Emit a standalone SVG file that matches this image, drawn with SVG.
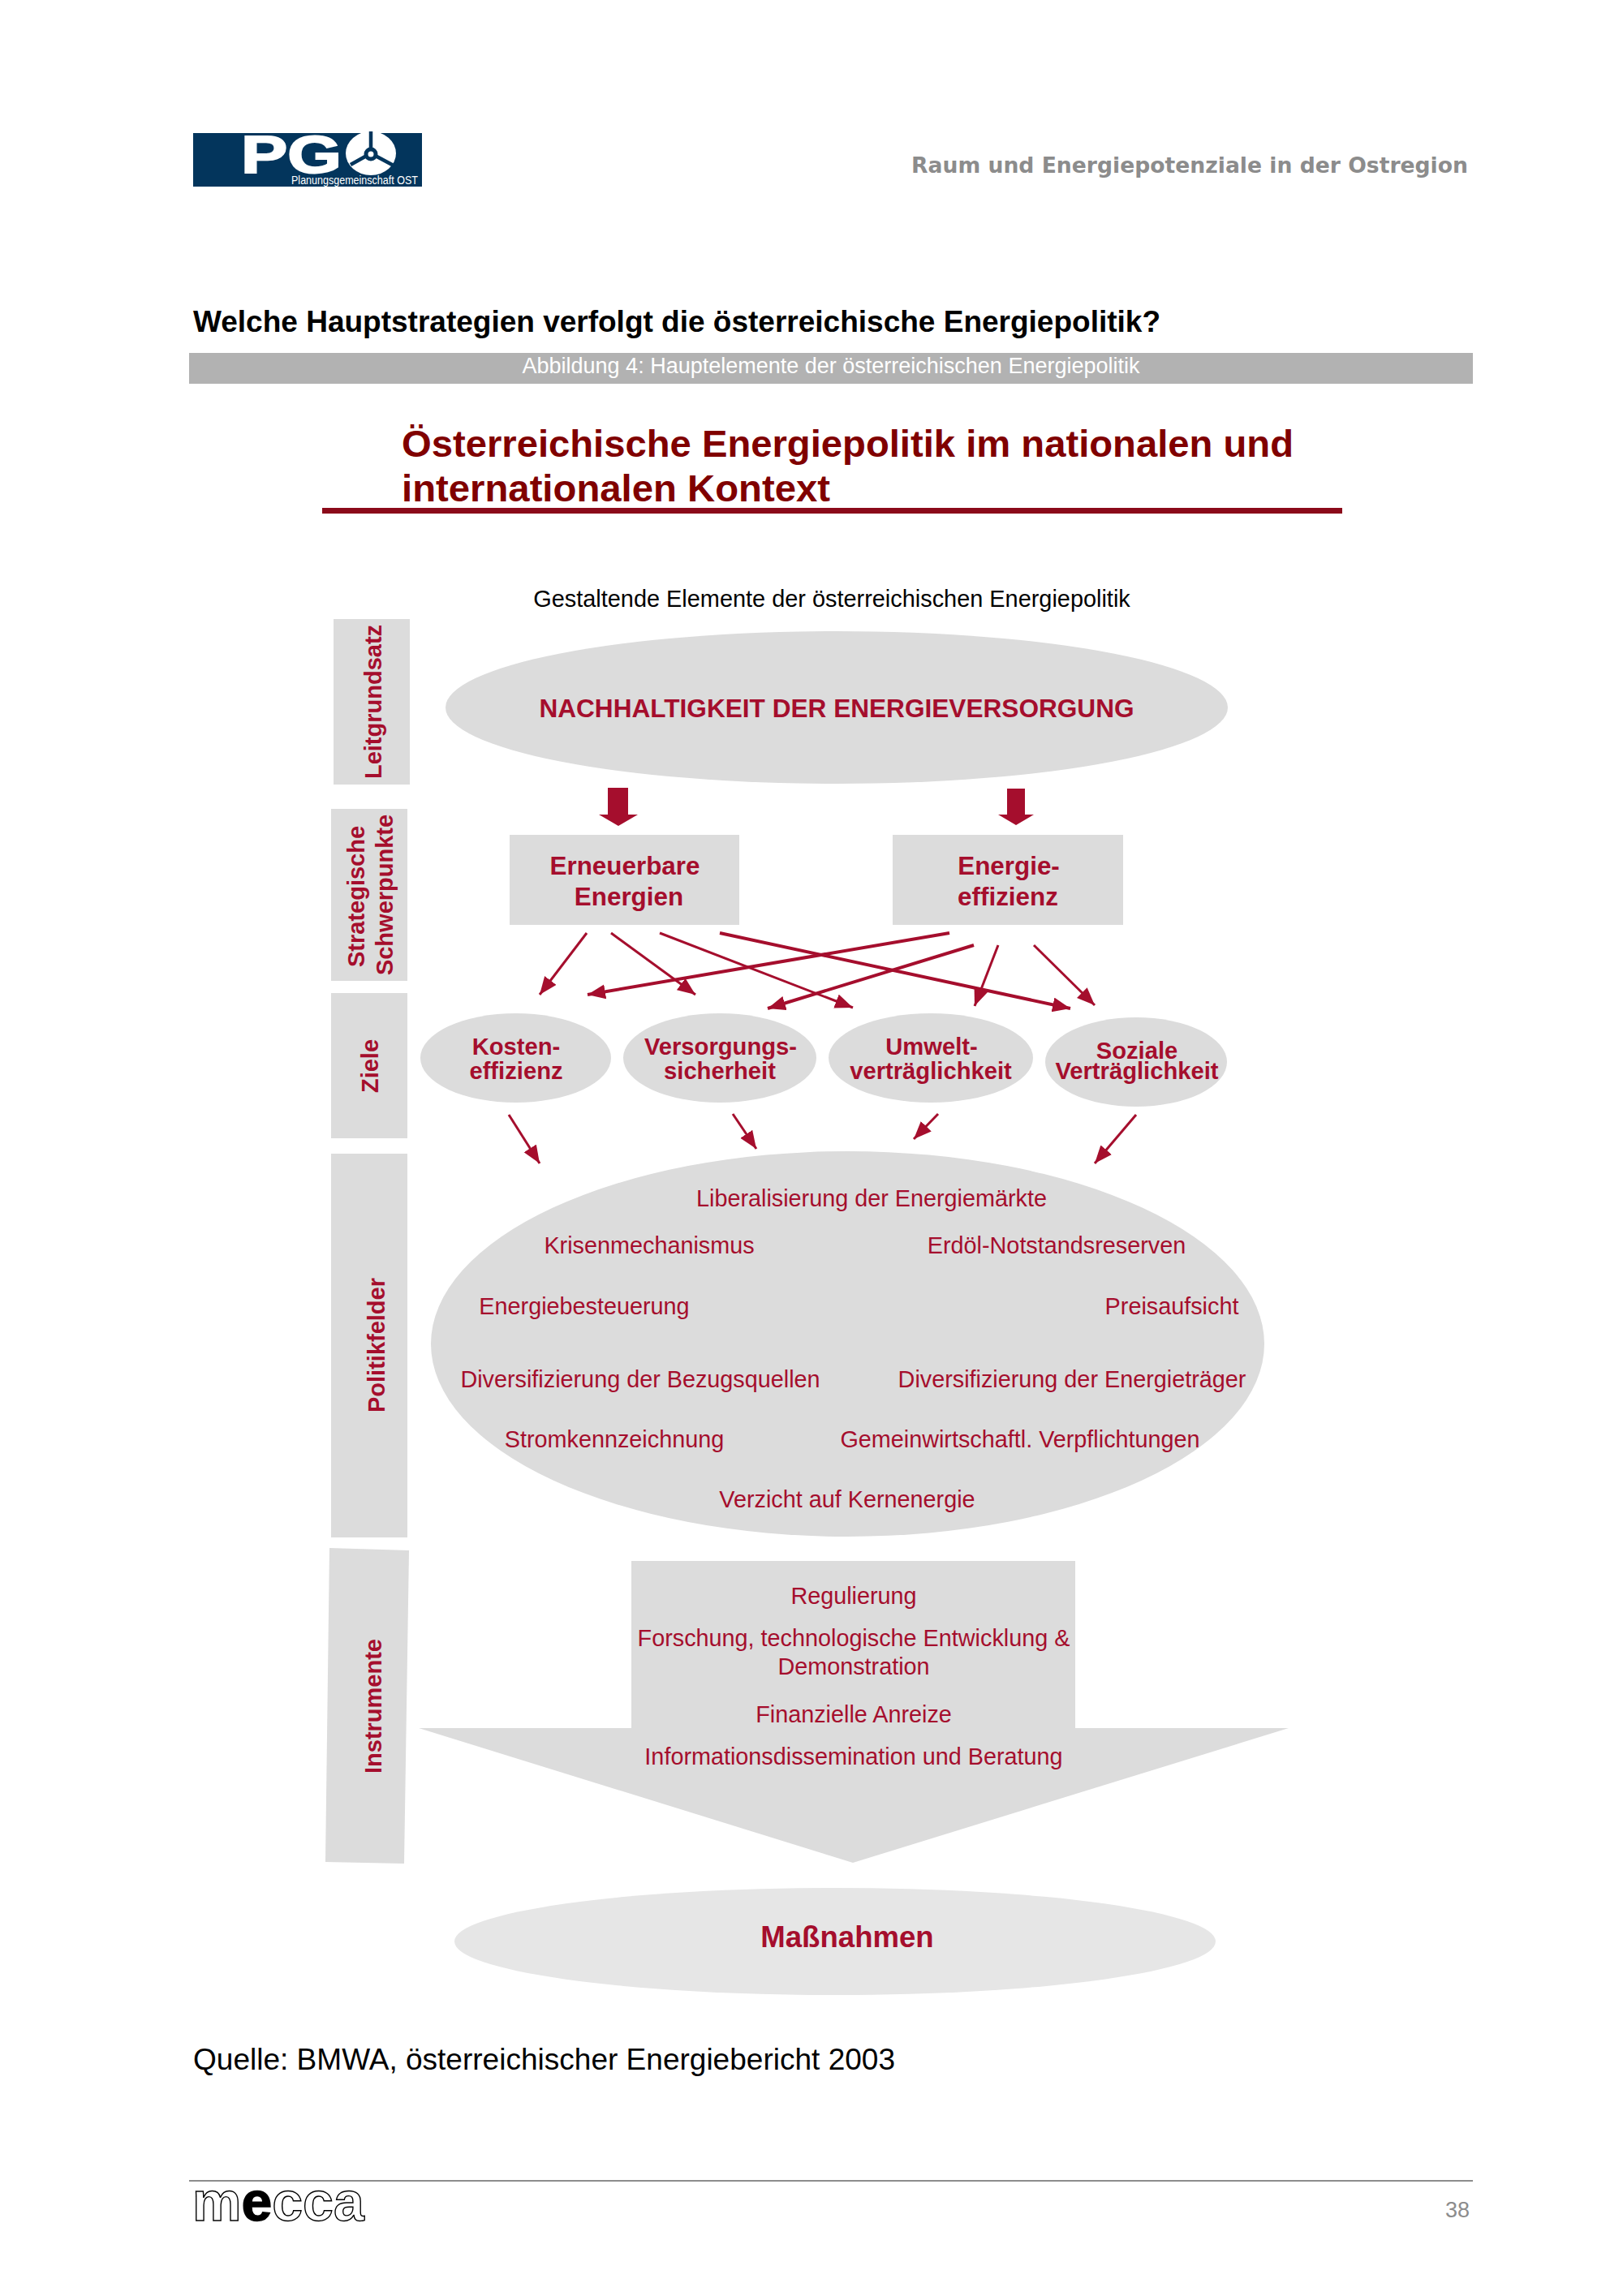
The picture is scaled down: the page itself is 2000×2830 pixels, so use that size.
<svg xmlns="http://www.w3.org/2000/svg" width="2000" height="2830" viewBox="0 0 2000 2830">
<style>
text{font-family:"Liberation Sans",Arial,sans-serif}
.g{fill:#dcdcdc}
.r{fill:#a50e2d}
.b{font-weight:bold}
.m{text-anchor:middle}
.side{font-size:29px;font-weight:bold;fill:#a50e2d;text-anchor:middle}
.goal{font-size:29.2px;font-weight:bold;fill:#a50e2d;text-anchor:middle}
.box{font-size:31.4px;font-weight:bold;fill:#a50e2d;text-anchor:middle}
.pol{font-size:30px;fill:#a50e2d;text-anchor:middle;transform-box:fill-box;transform-origin:center;transform:scaleX(.96)}
.thin{stroke:#a50e2d;stroke-width:3;fill:none;marker-end:url(#ah)}
.thick{stroke:#a50e2d;stroke-width:4;fill:none;marker-end:url(#ah)}
</style>
<defs>
<marker id="ah" markerUnits="userSpaceOnUse" markerWidth="24" markerHeight="20" refX="22" refY="9" orient="auto"><path d="M0 0L22 9L0 18Z" fill="#a50e2d"/></marker>
</defs>
<rect width="2000" height="2830" fill="#fff"/>
<g id="logo">
<rect x="238" y="164" width="282" height="66" fill="#03355c"/>
<text x="297" y="213" font-size="64" font-weight="bold" fill="#fff" stroke="#fff" stroke-width="2" textLength="124" lengthAdjust="spacingAndGlyphs">PG</text>
<ellipse cx="457" cy="189" rx="31" ry="27" fill="#fff"/>
<path d="M457 162V189M457 189L432 203M457 189L485 204" stroke="#03355c" stroke-width="4.5" fill="none"/>
<circle cx="457" cy="190" r="6" fill="#fff" stroke="#03355c" stroke-width="5"/>
<text x="359" y="227" font-size="14" fill="#fff" textLength="156" lengthAdjust="spacingAndGlyphs">Planungsgemeinschaft OST</text>
</g>
<text id="header" x="1123" y="213" font-size="26" font-weight="bold" fill="#8c8c8c" style="font-family:'DejaVu Sans',sans-serif" textLength="686" lengthAdjust="spacingAndGlyphs">Raum und Energiepotenziale in der Ostregion</text>
<text id="question" x="238" y="409" font-size="36" font-weight="bold" fill="#000" textLength="1192" lengthAdjust="spacingAndGlyphs">Welche Hauptstrategien verfolgt die österreichische Energiepolitik?</text>
<g id="caption">
<rect x="233" y="435" width="1582" height="38" fill="#b2b2b2"/>
<text x="1024" y="460" font-size="27" fill="#fff" text-anchor="middle">Abbildung 4: Hauptelemente der österreichischen Energiepolitik</text>
</g>
<g id="title">
<text x="495" y="563" font-size="47" font-weight="bold" fill="#800000" textLength="1099" lengthAdjust="spacingAndGlyphs">Österreichische Energiepolitik im nationalen und</text>
<text x="495" y="618" font-size="47" font-weight="bold" fill="#800000" textLength="528" lengthAdjust="spacingAndGlyphs">internationalen Kontext</text>
<rect x="397" y="626" width="1257" height="7" fill="#8b0a1a"/>
</g>
<text id="sub" x="1025" y="748" font-size="28.9" fill="#000" text-anchor="middle">Gestaltende Elemente der österreichischen Energiepolitik</text>

<g id="side-leitgrundsatz"><rect class="g" x="411" y="763" width="94" height="204"/><text class="side" transform="translate(470,865) rotate(-90)">Leitgrundsatz</text></g>
<g id="side-strategische"><rect class="g" x="408" y="997" width="94" height="212"/><text class="side" transform="translate(449,1105) rotate(-90)">Strategische</text><text class="side" transform="translate(484,1103) rotate(-90)">Schwerpunkte</text></g>
<g id="side-ziele"><rect class="g" x="408" y="1224" width="94" height="179"/><text class="side" transform="translate(466,1314) rotate(-90)">Ziele</text></g>
<g id="side-politikfelder"><rect class="g" x="408" y="1422" width="94" height="473"/><text class="side" transform="translate(474,1658) rotate(-90)">Politikfelder</text></g>
<g id="side-instrumente"><path class="g" d="M406 1908L504 1911L498 2297L401 2295Z"/><text class="side" transform="translate(470,2103) rotate(-90)">Instrumente</text></g>

<g id="leitgrundsatz"><ellipse class="g" cx="1031" cy="872" rx="482" ry="94"/><text x="1031" y="884" class="b r m" font-size="31.6">NACHHALTIGKEIT DER ENERGIEVERSORGUNG</text></g>
<g id="erneuerbare"><rect class="g" x="628" y="1029" width="283" height="111"/><text class="box" x="770" y="1078">Erneuerbare</text><text class="box" x="775" y="1116">Energien</text></g>
<g id="effizienz"><rect class="g" x="1100" y="1029" width="284" height="111"/><text class="box" x="1243" y="1078">Energie-</text><text class="box" x="1242" y="1116">effizienz</text></g>
<g id="kosten"><ellipse class="g" cx="635.5" cy="1304" rx="117.5" ry="55"/><text class="goal" x="636" y="1300">Kosten-</text><text class="goal" x="636" y="1330">effizienz</text></g>
<g id="versorgung"><ellipse class="g" cx="887" cy="1304" rx="119" ry="55"/><text class="goal" x="888" y="1300">Versorgungs-</text><text class="goal" x="887" y="1330">sicherheit</text></g>
<g id="umwelt"><ellipse class="g" cx="1147" cy="1304" rx="126" ry="55"/><text class="goal" x="1148" y="1300">Umwelt-</text><text class="goal" x="1147" y="1330">verträglichkeit</text></g>
<g id="soziale"><ellipse class="g" cx="1400" cy="1309" rx="112" ry="55"/><text class="goal" x="1401" y="1305">Soziale</text><text class="goal" x="1401" y="1330">Verträglichkeit</text></g>

<g id="politikfelder"><ellipse class="g" cx="1044.5" cy="1656.5" rx="513.5" ry="237.5"/>
<text class="pol" x="1074" y="1487">Liberalisierung der Energiemärkte</text>
<text class="pol" x="800" y="1545">Krisenmechanismus</text>
<text class="pol" x="1302" y="1545">Erdöl-Notstandsreserven</text>
<text class="pol" x="720" y="1620">Energiebesteuerung</text>
<text class="pol" x="1444" y="1620">Preisaufsicht</text>
<text class="pol" x="789" y="1710">Diversifizierung der Bezugsquellen</text>
<text class="pol" x="1321" y="1710">Diversifizierung der Energieträger</text>
<text class="pol" x="757" y="1784">Stromkennzeichnung</text>
<text class="pol" x="1257" y="1784">Gemeinwirtschaftl. Verpflichtungen</text>
<text class="pol" x="1044" y="1858">Verzicht auf Kernenergie</text>
</g>
<g id="instrumente"><path class="g" d="M778 1924H1325V2130H1588L1051 2296L516 2130H778Z"/>
<text class="pol" x="1052" y="1977">Regulierung</text>
<text class="pol" x="1052" y="2029">Forschung, technologische Entwicklung &amp;</text>
<text class="pol" x="1052" y="2064">Demonstration</text>
<text class="pol" x="1052" y="2123">Finanzielle Anreize</text>
<text class="pol" x="1052" y="2175">Informationsdissemination und Beratung</text>
</g>
<g id="massnahmen"><ellipse cx="1029" cy="2393" rx="469" ry="66" fill="#e6e6e6"/><text x="1044" y="2400" class="b r m" font-size="36.6">Maßnahmen</text></g>

<g id="connectors">
<path class="r" d="M749 971H774V1004H786L762 1018L738 1004H749Z"/>
<path class="r" d="M1241 972H1263V1004H1274L1252 1017L1230 1004H1241Z"/>
<path class="thin" d="M723 1150L665 1226"/>
<path class="thin" d="M753 1150L857 1226"/>
<path class="thin" d="M813 1150L1051 1242"/>
<path class="thick" d="M887 1150L1319 1243"/>
<path class="thick" d="M1170 1150L724 1226"/>
<path class="thick" d="M1200 1165L946 1243"/>
<path class="thin" d="M1230 1165L1201 1240"/>
<path class="thin" d="M1274 1165L1349 1239"/>
<path class="thin" d="M627 1374L665 1434"/>
<path class="thin" d="M903 1373L932 1416"/>
<path class="thin" d="M1156 1373L1126 1404"/>
<path class="thin" d="M1400 1374L1349 1434"/>
</g>
<text id="source" x="238" y="2551" font-size="36" fill="#000" textLength="865" lengthAdjust="spacingAndGlyphs">Quelle: BMWA, österreichischer Energiebericht 2003</text>
<g id="footer">
<rect x="233" y="2687" width="1582" height="2" fill="#8c8c8c"/>
<text x="237" y="2737" font-size="68" font-weight="bold" fill="#fff" stroke="#000" stroke-width="1.4">m<tspan fill="#000">e</tspan>cca</text>
<text x="1781" y="2733" font-size="27" fill="#8c8c8c">38</text>
</g>
</svg>
